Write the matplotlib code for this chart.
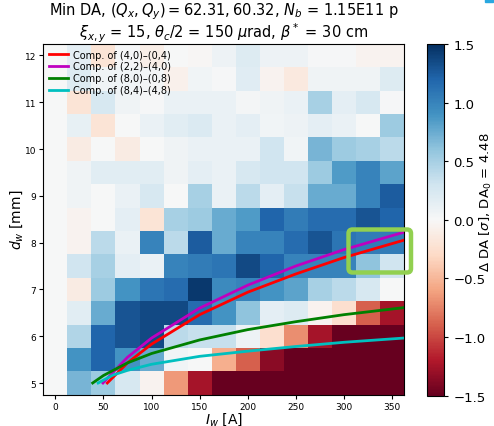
import matplotlib
matplotlib.use("Agg")
import matplotlib.pyplot as plt
import numpy as np
from matplotlib.patches import FancyBboxPatch, Rectangle

# ---------------- DATA ----------------
i_w = [0, 25, 50, 75, 100, 125, 150, 175, 200, 225, 250, 275, 300, 325, 350]
d_w = [5.0, 5.5, 6.0, 6.5, 7.0, 7.5, 8.0, 8.5, 9.0, 9.5, 10.0, 10.5, 11.0, 11.5, 12.0]

# Delta DA per cell, rows from d_w = 12 (top) down to d_w = 5 (bottom)
row_12_0 = [0.0, 0.15, -0.2, 0.02, -0.1, 0.0, -0.02, 0.08, 0.2, 0.08, 0.08, 0.02, 0.02, -0.05, -0.05]
row_11_5 = [0.0, 0.2, 0.05, 0.05, 0.03, -0.08, 0.05, 0.02, 0.18, -0.05, -0.15, 0.06, 0.06, 0.06, 0.2]
row_11_0 = [0.0, -0.2, 0.25, 0.06, 0.02, 0.1, 0.1, 0.1, 0.03, 0.06, 0.1, 0.5, 0.15, 0.25, 0.02]
row_10_5 = [0.0, 0.12, -0.2, 0.0, 0.1, 0.17, 0.22, 0.1, 0.15, 0.05, 0.08, 0.15, 0.1, 0.0, 0.55]
row_10_0 = [0.0, -0.12, 0.0, -0.12, 0.0, 0.06, 0.1, 0.1, 0.1, 0.3, 0.05, 0.7, 0.55, 0.5, 0.4]
row_9_5 = [0.0, 0.06, 0.17, 0.17, 0.17, 0.06, 0.15, 0.1, 0.25, 0.3, 0.3, 0.55, 0.85, 1.0, 0.8]
row_9_0 = [0.0, 0.06, 0.0, 0.1, 0.25, 0.0, 0.5, 0.1, 0.4, 0.15, 0.35, 0.75, 0.75, 1.0, 1.25]
row_8_5 = [0.0, -0.05, 0.0, 0.15, -0.2, 0.5, 0.55, 0.75, 0.85, 1.2, 1.05, 1.15, 1.15, 1.3, 1.2]
row_8_0 = [0.0, -0.05, 0.4, 0.1, 1.0, 0.4, 1.25, 0.75, 1.0, 1.0, 1.15, 1.3, 1.1, 1.05, 1.05]
row_7_5 = [0.0, 0.3, 0.5, 0.15, 0.1, 1.0, 1.05, 1.1, 1.35, 1.2, 1.0, 1.0, 1.0, 0.6, 0.3]
row_7_0 = [0.0, -0.12, 0.55, 0.9, 1.1, 1.15, 1.45, 0.95, 1.0, 0.9, 0.8, 0.5, 0.4, 0.25, 0.0]
row_6_5 = [0.0, 0.17, 0.75, 1.3, 1.35, 1.35, 1.15, 0.9, 0.6, 0.15, 0.2, -0.05, -0.25, -0.9, -1.25]
row_6_0 = [0.0, 0.45, 1.2, 1.3, 1.35, 0.4, 0.35, 0.35, 0.08, -0.25, -0.7, -1.25, -1.5, -1.5, -1.5]
row_5_5 = [0.0, 0.9, 1.2, 0.9, 0.75, 0.05, 0.0, -0.55, -0.9, -1.35, -1.5, -1.5, -1.5, -1.5, -1.5]
row_5_0 = [0.0, 0.7, 0.55, 0.25, -0.05, -0.65, -1.25, -1.5, -1.5, -1.5, -1.5, -1.5, -1.5, -1.5, -1.5]

# compensation curves (I_w [A], d_w [mm])
comp_40_i = [54, 75, 100, 150, 200, 250, 300, 362]
comp_40_d = [5.0, 5.43, 5.83, 6.46, 6.94, 7.33, 7.68, 8.05]
comp_22_i = [49.5, 75, 100, 150, 200, 250, 300, 362]
comp_22_d = [5.0, 5.55, 5.96, 6.60, 7.09, 7.50, 7.85, 8.22]
comp_80_i = [38.8, 50, 75, 100, 150, 200, 250, 300, 362]
comp_80_d = [5.0, 5.16, 5.43, 5.63, 5.92, 6.14, 6.31, 6.46, 6.61]
comp_84_i = [44.5, 60, 75, 100, 150, 200, 250, 300, 362]
comp_84_d = [5.0, 5.17, 5.27, 5.40, 5.57, 5.68, 5.78, 5.87, 5.96]

# ---------------- PLOT ----------------
grid = np.array([row_12_0, row_11_5, row_11_0, row_10_5, row_10_0, row_9_5, row_9_0,
                 row_8_5, row_8_0, row_7_5, row_7_0, row_6_5, row_6_0, row_5_5, row_5_0])[::-1]

di = i_w[1] - i_w[0]
dd = d_w[1] - d_w[0]
x_edges = np.append(np.array(i_w) - di / 2, i_w[-1] + di / 2)
y_edges = np.append(np.array(d_w) - dd / 2, d_w[-1] + dd / 2)

fig = plt.figure(figsize=(4.94, 4.27), dpi=100)
ax = fig.add_axes([0.0877, 0.0733, 0.7302, 0.822])
cax = fig.add_axes([0.8638, 0.071, 0.0356, 0.8237])

mesh = ax.pcolormesh(x_edges, y_edges, grid, cmap="RdBu", vmin=-1.5, vmax=1.5)

ax.plot(comp_40_i, comp_40_d, color="red", lw=2, label="Comp. of (4,0)–(0,4)")
ax.plot(comp_22_i, comp_22_d, color="m", lw=2, label="Comp. of (2,2)–(4,0)")
ax.plot(comp_80_i, comp_80_d, color="green", lw=2, label="Comp. of (8,0)–(0,8)")
ax.plot(comp_84_i, comp_84_d, color="c", lw=2, label="Comp. of (8,4)–(4,8)")

ax.set_xlim(x_edges[0], x_edges[-1])
ax.set_ylim(y_edges[0], y_edges[-1])
ax.set_xticks(np.arange(0, 351, 50))
ax.set_yticks(np.arange(5, 13, 1))
ax.tick_params(labelsize=6.5, length=3, pad=2)

ax.set_xlabel("$I_w$ [A]", fontsize=10, labelpad=0)
ax.set_ylabel("$d_w$ [mm]", fontsize=10, labelpad=0)
ax.set_title("Min DA, $(Q_x, Q_y) = 62.31, 60.32$, $N_b$ = 1.15E11 p\n"
             "$\\xi_{x,y}$ = 15, $\\theta_c/2$ = 150 $\\mu$rad, $\\beta^*$ = 30 cm",
             fontsize=10.5, pad=3, linespacing=0.95)

ax.legend(loc="upper left", fontsize=7, frameon=False, handlelength=1.9,
          handletextpad=0.6, borderaxespad=0.2, labelspacing=0.2)

# highlight box around the top right region (figure coordinates)
box = FancyBboxPatch((0.7055, 0.3595), 0.1265, 0.1007,
                     boxstyle="round,pad=0,rounding_size=0.008",
                     mutation_aspect=494 / 427, transform=fig.transFigure,
                     fill=False, ec="#92d050", lw=3.2, figure=fig)
fig.patches.append(box)

cb = fig.colorbar(mesh, cax=cax, ticks=[-1.5, -1.0, -0.5, 0.0, 0.5, 1.0, 1.5])
cb.ax.tick_params(labelsize=9.5, length=3)
cb.outline.set_linewidth(0.8)
fig.text(0.984, 0.363, "$\\Delta$ DA [$\\sigma$], DA$_0$ = 4.48", rotation=90,
         ha="center", va="bottom", fontsize=9.5)

# small fragment at the top right edge
fig.patches.append(Rectangle((0.981, 0.994), 0.016, 0.006, transform=fig.transFigure,
                             color="#29a8e0", figure=fig))

fig.savefig("out.png", dpi=100)
